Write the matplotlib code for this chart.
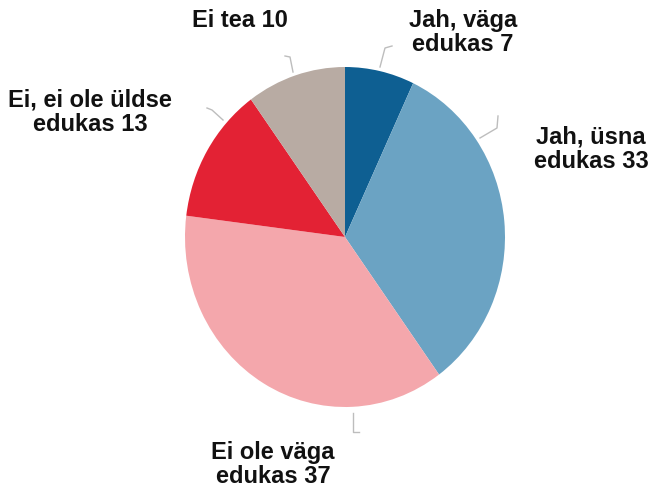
import matplotlib
matplotlib.use("Agg")
import matplotlib.pyplot as plt

plt.rcParams["font.family"] = ["Liberation Sans", "DejaVu Sans"]

# data, clockwise from 12 o'clock
labels = ["Jah, väga\nedukas", "Jah, üsna\nedukas", "Ei ole väga\nedukas",
          "Ei, ei ole üldse\nedukas", "Ei tea"]
values = [7, 33, 37, 13, 10]
colors = ["#0e5f92", "#6ba3c3", "#f4a7ac", "#e32234", "#b8aba3"]

W, H = 651, 492
fig = plt.figure(figsize=(W / 100, H / 100), dpi=100)

# pie box in pixels (slightly taller than wide, as in the source)
cx, cy, rx, ry = 345, 237, 160, 170
ax = fig.add_axes([(cx - rx) / W, (H - cy - ry) / H, 2 * rx / W, 2 * ry / H])
ax.pie(values, colors=colors, startangle=90, counterclock=False,
       wedgeprops=dict(linewidth=0))
ax.set_aspect("auto")
ax.set_xlim(-1, 1)
ax.set_ylim(-1, 1)
ax.axis("off")

# overlay in pixel coordinates for labels and leader ticks
ov = fig.add_axes([0, 0, 1, 1], zorder=3)
ov.set_xlim(0, W)
ov.set_ylim(H, 0)
ov.axis("off")

# label anchor (centre x, last-line baseline y) and leader polyline, in pixels
label_pos = [(463, 51), (591, 168), (273, 483), (90, 131), (240, 27)]
leaders = [
    [(380, 67), (385, 48), (392, 46)],
    [(480, 138), (497, 128), (498, 116)],
    [(353, 413), (353, 432), (359, 432)],
    [(223, 120), (212, 110), (207, 108)],
    [(293, 72), (290, 57), (285, 56)],
]

for lab, v, (x, y), pts in zip(labels, values, label_pos, leaders):
    ov.text(x, y, f"{lab} {v}", ha="center", va="baseline", fontsize=17,
            fontweight="bold", linespacing=1.07, color="#111111")
    xs, ys = zip(*pts)
    ov.plot(xs, ys, color="#bdbdbd", lw=1)

fig.savefig("out.png", dpi=100)
